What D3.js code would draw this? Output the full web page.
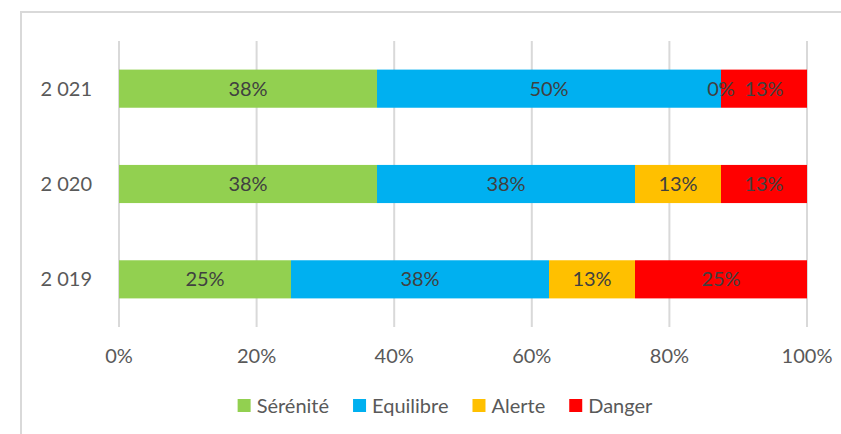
<!DOCTYPE html>
<html>
<head>
<meta charset="utf-8">
<script src="https://cdn.jsdelivr.net/npm/d3@7"></script>
<style>
  body { margin: 0; background: #fff; }
  svg { display: block; font-family: Lato, "Noto Sans", sans-serif; }
</style>
</head>
<body>
<svg id="chart" width="841" height="434"></svg>
<script>
// data
const years = ["2 021", "2 020", "2 019"];
const series = ["Sérénité", "Equilibre", "Alerte", "Danger"];
const colors = ["#92D050", "#00B0F0", "#FFC000", "#FF0000"];
const serenite = [0.375, 0.375, 0.25];
const equilibre = [0.5, 0.375, 0.375];
const alerte = [0, 0.125, 0.125];
const danger = [0.125, 0.125, 0.25];
const ticks = [0, 0.2, 0.4, 0.6, 0.8, 1];

const rows = years.map((y, i) => ({
    year: y,
    "Sérénité": serenite[i],
    "Equilibre": equilibre[i],
    "Alerte": alerte[i],
    "Danger": danger[i]
}));

const svg = d3.select("#chart");
const plotLeft = 119, plotRight = 807, plotTop = 41, plotBottom = 327;
const fontSize = "20px";

// chart frame
svg.append("rect")
    .attr("x", 21).attr("y", 12)
    .attr("width", 900).attr("height", 500)
    .attr("fill", "none")
    .attr("stroke", "#d9d9d9")
    .attr("stroke-width", 2);

const x = d3.scaleLinear().domain([0, 1]).range([plotLeft, plotRight]);
const y = d3.scaleBand().domain(years).range([plotTop, plotBottom]).paddingInner(0.6).paddingOuter(0.3);
const color = d3.scaleOrdinal().domain(series).range(colors);

// gridlines
svg.append("g")
    .selectAll("line")
    .data(ticks)
    .join("line")
    .attr("x1", d => x(d))
    .attr("x2", d => x(d))
    .attr("y1", plotTop)
    .attr("y2", plotBottom)
    .attr("stroke", "#d9d9d9")
    .attr("stroke-width", 2);

// x tick labels
svg.append("g")
    .selectAll("text")
    .data(ticks)
    .join("text")
    .attr("x", d => x(d))
    .attr("y", 356)
    .attr("dy", "0.35em")
    .attr("text-anchor", "middle")
    .style("font-size", fontSize)
    .style("fill", "#595959")
    .text(d3.format(".0%"));

// y labels
svg.append("g")
    .selectAll("text")
    .data(years)
    .join("text")
    .attr("x", plotLeft - 27)
    .attr("y", d => y(d) + y.bandwidth() / 2)
    .attr("dy", "0.35em")
    .attr("text-anchor", "end")
    .style("font-size", fontSize)
    .style("fill", "#595959")
    .text(d => d);

const stacked = d3.stack().keys(series)(rows);

const layers = svg.append("g")
    .selectAll("g")
    .data(stacked)
    .join("g")
    .attr("fill", d => color(d.key));

layers.selectAll("rect")
    .data(d => d)
    .join("rect")
    .attr("x", d => x(d[0]))
    .attr("y", d => y(d.data.year))
    .attr("width", d => x(d[1]) - x(d[0]))
    .attr("height", y.bandwidth());

// data labels
svg.append("g")
    .selectAll("g")
    .data(stacked)
    .join("g")
    .selectAll("text")
    .data(d => d)
    .join("text")
    .attr("x", d => x((d[0] + d[1]) / 2))
    .attr("y", d => y(d.data.year) + y.bandwidth() / 2)
    .attr("dy", "0.35em")
    .attr("text-anchor", "middle")
    .style("font-size", fontSize)
    .style("fill", "#404040")
    .text(d => d3.format(".0%")(d[1] - d[0]));

// legend
const legend = svg.append("g");
const items = legend.selectAll("g")
    .data(series)
    .join("g");
items.append("rect")
    .attr("width", 13).attr("height", 13)
    .attr("y", -6.5)
    .attr("fill", d => color(d));
items.append("text")
    .attr("x", 19)
    .attr("dy", "0.35em")
    .style("font-size", fontSize)
    .style("fill", "#595959")
    .text(d => d);

const gap = 24;
let cx = 0;
items.each(function () {
    const g = d3.select(this);
    g.attr("transform", "translate(" + cx + ",0)");
    cx += 19 + g.select("text").node().getComputedTextLength() + gap;
});
const total = cx - gap;
legend.attr("transform", "translate(" + (445 - total / 2) + ",405.5)");
</script>
</body>
</html>
